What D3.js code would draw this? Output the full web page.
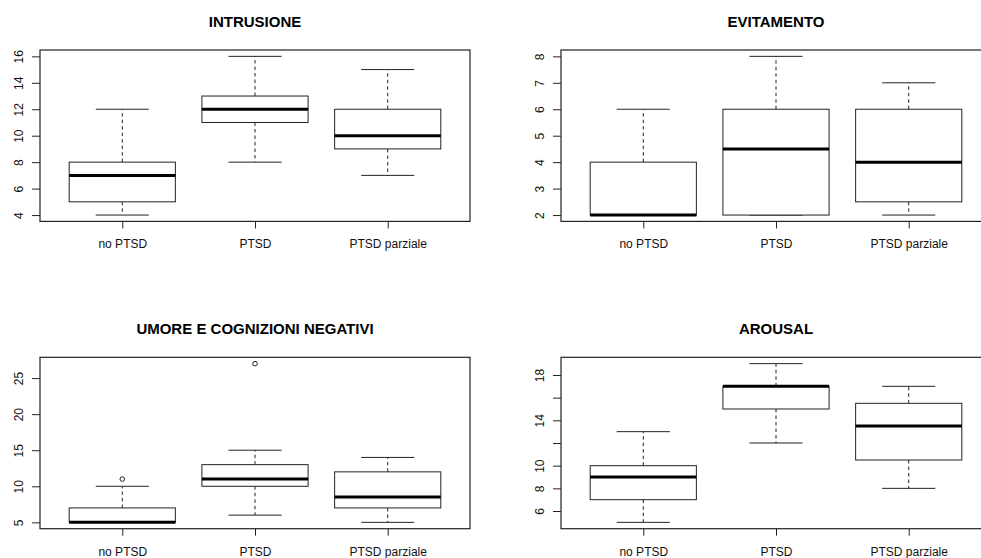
<!DOCTYPE html>
<html>
<head>
<meta charset="utf-8">
<script src="https://cdn.jsdelivr.net/npm/d3@7"></script>
<style>
  body { margin: 0; background: #fff; }
  svg { display: block; font-family: "Liberation Sans", Arial, sans-serif; }
</style>
</head>
<body>
<svg id="chart" width="981" height="558"></svg>
<script>
// groups shown in every panel
const groups = ['no PTSD', 'PTSD', 'PTSD parziale'];

// five-number summaries per group: [lower whisker, Q1, median, Q3, upper whisker]
const intrusione = [[4, 5, 7, 8, 12], [8, 11, 12, 13, 16], [7, 9, 10, 12, 15]];
const evitamento = [[2, 2, 2, 4, 6], [2, 2, 4.5, 6, 8], [2, 2.5, 4, 6, 7]];
const umore = [[5, 5, 5, 7, 10], [6, 10, 11, 13, 15], [5, 7, 8.5, 12, 14]];
const arousal = [[5, 7, 9, 10, 13], [12, 15, 17, 17, 19], [8, 10.5, 13.5, 15.5, 17]];

// outliers per group
const umoreOut = [[11], [27], []];
const noOut = [[], [], []];

// y tick values and which of them carry a label
const intrusioneTicks = [4, 6, 8, 10, 12, 14, 16];
const evitamentoTicks = [2, 3, 4, 5, 6, 7, 8];
const umoreTicks = [5, 10, 15, 20, 25];
const arousalTicks = [6, 8, 10, 12, 14, 16, 18];
const arousalLabels = [6, 8, 10, 14, 18];

const panels = [
  { title: 'INTRUSIONE', stats: intrusione, out: noOut, ticks: intrusioneTicks, labels: intrusioneTicks, x0: 40, y0: 50 },
  { title: 'EVITAMENTO', stats: evitamento, out: noOut, ticks: evitamentoTicks, labels: evitamentoTicks, x0: 561, y0: 50 },
  { title: 'UMORE E COGNIZIONI NEGATIVI', stats: umore, out: umoreOut, ticks: umoreTicks, labels: umoreTicks, x0: 40, y0: 357.3 },
  { title: 'AROUSAL', stats: arousal, out: noOut, ticks: arousalTicks, labels: arousalLabels, x0: 561, y0: 357.3 }
];

const plotW = 430, plotH = 171.4;
const svg = d3.select('#chart');

panels.forEach(p => drawPanel(p));

function drawPanel(p) {
  const g = svg.append('g').attr('transform', `translate(${p.x0},${p.y0})`);

  // data range extended by 4% like base graphics
  const vals = p.stats.flat().concat(p.out.flat());
  const lo = d3.min(vals), hi = d3.max(vals);
  const pad = (hi - lo) * 0.04;
  const y = d3.scaleLinear().domain([lo - pad, hi + pad]).range([plotH, 0]);
  const x = d3.scaleLinear().domain([0.38, 3.62]).range([0, plotW]);
  const boxW = x(0.8) - x(0);

  // title
  g.append('text')
    .attr('x', plotW / 2).attr('y', -23)
    .attr('text-anchor', 'middle')
    .attr('font-size', 15).attr('font-weight', 'bold')
    .text(p.title);

  // y axis
  const yAxis = d3.axisLeft(y).tickValues(p.ticks).tickSize(8).tickSizeOuter(0)
    .tickFormat(d => p.labels.includes(d) ? d : '');
  const ya = g.append('g').call(yAxis);
  ya.select('.domain').remove();
  ya.selectAll('line').attr('stroke', '#222');
  ya.selectAll('text')
    .attr('font-size', 12).attr('fill', '#111')
    .attr('text-anchor', 'middle')
    .attr('x', null).attr('dy', null)
    .attr('transform', d => `translate(-17,${0}) rotate(-90)`);

  // x axis
  const xAxis = d3.axisBottom(x).tickValues([1, 2, 3]).tickSize(7).tickSizeOuter(0)
    .tickFormat(d => groups[d - 1]);
  const xa = g.append('g').attr('transform', `translate(0,${plotH})`).call(xAxis);
  xa.select('.domain').remove();
  xa.selectAll('line').attr('stroke', '#222');
  xa.selectAll('text').attr('font-size', 12).attr('fill', '#111').attr('dy', null).attr('y', 27);

  // boxes
  const bx = g.selectAll('.box').data(p.stats).enter().append('g').attr('class', 'box');
  const cx = (d, i) => x(i + 1);

  // whiskers (dashed)
  bx.append('line')
    .attr('x1', cx).attr('x2', cx)
    .attr('y1', d => y(d[3])).attr('y2', d => y(d[4]))
    .attr('stroke', '#222').attr('stroke-dasharray', '3.5,3');
  bx.append('line')
    .attr('x1', cx).attr('x2', cx)
    .attr('y1', d => y(d[1])).attr('y2', d => y(d[0]))
    .attr('stroke', '#222').attr('stroke-dasharray', '3.5,3');

  // staples
  [0, 4].forEach(k => {
    bx.append('line')
      .attr('x1', (d, i) => cx(d, i) - boxW / 4).attr('x2', (d, i) => cx(d, i) + boxW / 4)
      .attr('y1', d => y(d[k])).attr('y2', d => y(d[k]))
      .attr('stroke', '#222');
  });

  bx.append('rect')
    .attr('x', (d, i) => cx(d, i) - boxW / 2)
    .attr('width', boxW)
    .attr('y', d => y(d[3]))
    .attr('height', d => y(d[1]) - y(d[3]))
    .attr('fill', '#fff').attr('stroke', '#222');

  bx.append('line')
    .attr('x1', (d, i) => cx(d, i) - boxW / 2).attr('x2', (d, i) => cx(d, i) + boxW / 2)
    .attr('y1', d => y(d[2])).attr('y2', d => y(d[2]))
    .attr('stroke', '#000').attr('stroke-width', 3);

  // outliers
  p.out.forEach((arr, i) => {
    g.selectAll(null).data(arr).enter().append('circle')
      .attr('cx', x(i + 1)).attr('cy', d => y(d))
      .attr('r', 2.3).attr('fill', 'none').attr('stroke', '#222');
  });

  // frame
  g.append('rect')
    .attr('width', plotW).attr('height', plotH)
    .attr('fill', 'none').attr('stroke', '#222').attr('stroke-width', 1.2);
}
</script>
</body>
</html>
